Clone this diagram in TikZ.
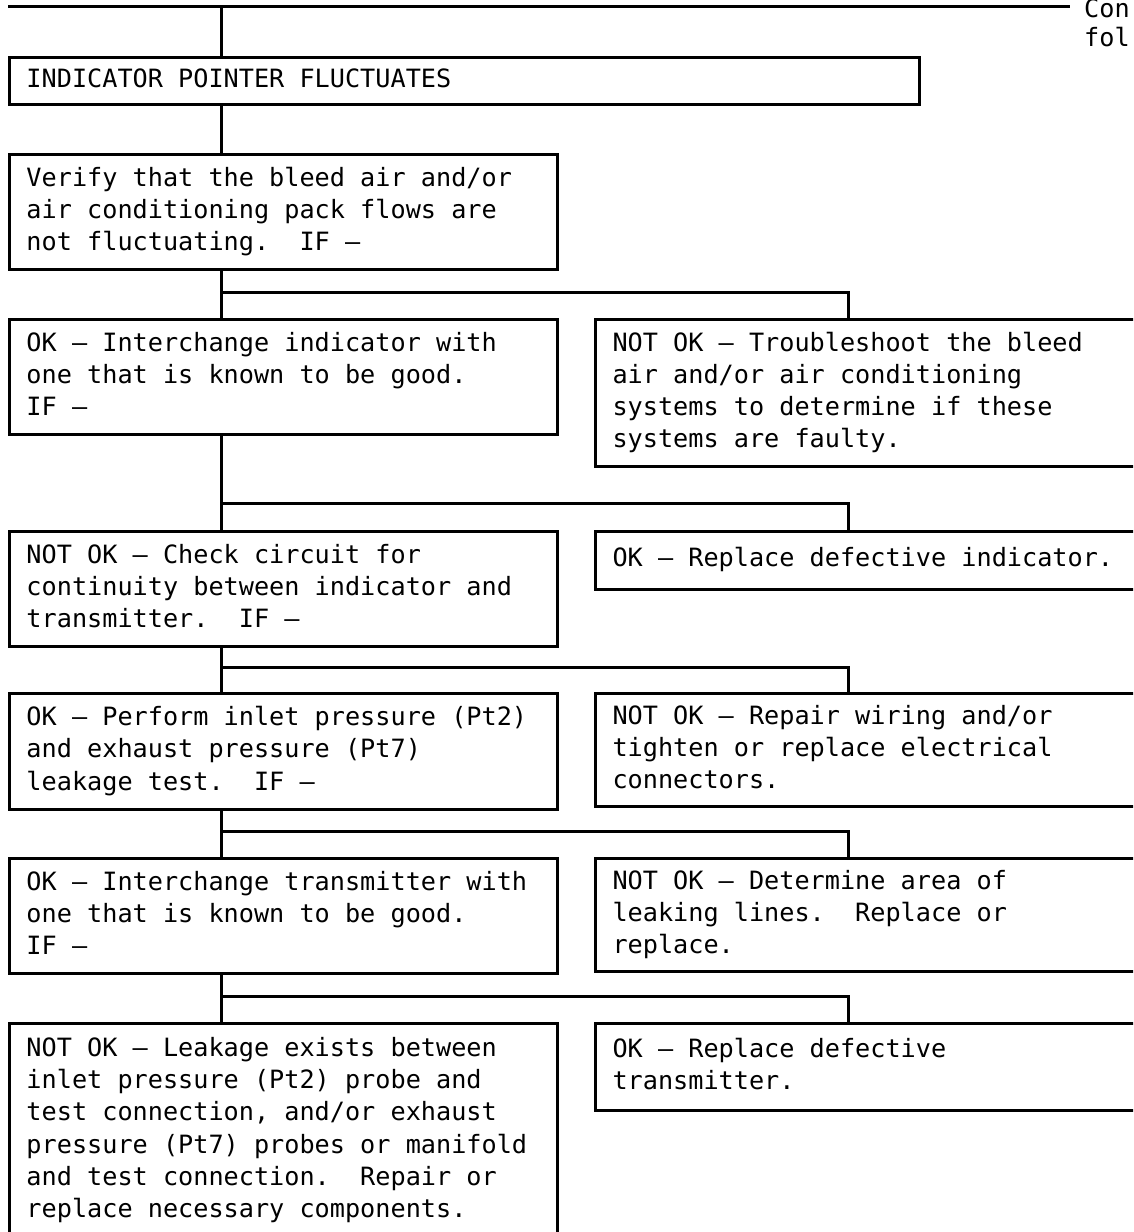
\documentclass[tikz,border=0pt]{standalone}
\usepackage{fontspec}
\newfontfamily\monofam{DejaVu Sans Mono}
\newcommand\monosize{\monofam\fontsize{25.2}{32.3}\selectfont
  \fontdimen2\font=0.602em\fontdimen3\font=0pt\fontdimen4\font=0pt
  \spaceskip=0.602em\xspaceskip=0.602em\relax}
\tikzset{
  box/.style={draw, line width=3pt, anchor=north west, inner xsep=17pt, inner ysep=0pt,
    align=left, font=\monosize,
    execute at begin node={\spaceskip=0.602em\xspaceskip=0.602em\relax}},
  lbox/.style={box, text width=514pt, minimum width=548pt},
  rbox/.style={box, text width=522pt, minimum width=556pt},
  conn/.style={line width=3pt},
  note/.style={anchor=base west, inner sep=0pt, font=\monosize}
}
\begin{document}
\begin{tikzpicture}[x=1pt,y=-1pt]
\useasboundingbox (0,0) rectangle (1133,1232);
\clip (0,0) rectangle (1133,1232);

% boxes
\node[box, text width=876pt, minimum width=910pt, minimum height=47pt] (b1) at (8,56)
  {\strut INDICATOR POINTER FLUCTUATES\strut};
\node[lbox, minimum height=115pt] (b2) at (8,153)
  {\strut Verify that the bleed air and/or\\air conditioning pack flows are\\not fluctuating.\ \ IF –\strut};
\node[lbox, minimum height=115pt] (b3l) at (8,318)
  {\strut OK – Interchange indicator with\\one that is known to be good.\\IF –\strut};
\node[rbox, minimum height=147pt] (b3r) at (594,318)
  {\strut NOT OK – Troubleshoot the bleed\\air and/or air conditioning\\systems to determine if these\\systems are faulty.\strut};
\node[lbox, minimum height=115pt] (b4l) at (8,530)
  {\strut NOT OK – Check circuit for\\continuity between indicator and\\transmitter.\ \ IF –\strut};
\node[rbox, minimum height=58pt] (b4r) at (594,530)
  {\strut OK – Replace defective indicator.\strut};
\node[lbox, minimum height=116pt] (b5l) at (8,692)
  {\strut OK – Perform inlet pressure (Pt2)\\and exhaust pressure (Pt7)\\leakage test.\ \ IF –\strut};
\node[rbox, minimum height=113pt] (b5r) at (594,692)
  {\strut NOT OK – Repair wiring and/or\\tighten or replace electrical\\connectors.\strut};
\node[lbox, minimum height=115pt] (b6l) at (8,857)
  {\strut OK – Interchange transmitter with\\one that is known to be good.\\IF –\strut};
\node[rbox, minimum height=113pt] (b6r) at (594,857)
  {\strut NOT OK – Determine area of\\leaking lines.\ \ Replace or\\replace.\strut};
\node[lbox, minimum height=214pt] (b7l) at (8,1022)
  {\strut NOT OK – Leakage exists between\\inlet pressure (Pt2) probe and\\test connection, and/or exhaust\\pressure (Pt7) probes or manifold\\and test connection.\ \ Repair or\\replace necessary components.\strut};
\node[rbox, minimum height=87pt] (b7r) at (594,1022)
  {\strut OK – Replace defective\\transmitter.\strut};

% top line and continuation note
\coordinate (t0) at (8,6);
\coordinate (t1) at (1070,6);
\coordinate (sp) at (221,6);
\coordinate (br) at (848,6);
\draw[conn] (t0) -- (t1);
\node[note] (c1) at (1084,17) {Con};
\node[note] (c2) at (1084,46) {fol};

% spine
\draw[conn] (sp) -- (sp |- b1.north);
\draw[conn] (b1.south -| sp) -- (b2.north -| sp);

% branches
\coordinate (j1) at (221,292);
\coordinate (j2) at (221,503);
\coordinate (j3) at (221,667);
\coordinate (j4) at (221,831);
\coordinate (j5) at (221,996);

\draw[conn] (b2.south -| sp) -- (b3l.north -| sp);
\draw[conn] (j1) -| (b3r.north -| br);
\draw[conn] (b3l.south -| sp) -- (b4l.north -| sp);
\draw[conn] (j2) -| (b4r.north -| br);
\draw[conn] (b4l.south -| sp) -- (b5l.north -| sp);
\draw[conn] (j3) -| (b5r.north -| br);
\draw[conn] (b5l.south -| sp) -- (b6l.north -| sp);
\draw[conn] (j4) -| (b6r.north -| br);
\draw[conn] (b6l.south -| sp) -- (b7l.north -| sp);
\draw[conn] (j5) -| (b7r.north -| br);
\end{tikzpicture}
\end{document}
